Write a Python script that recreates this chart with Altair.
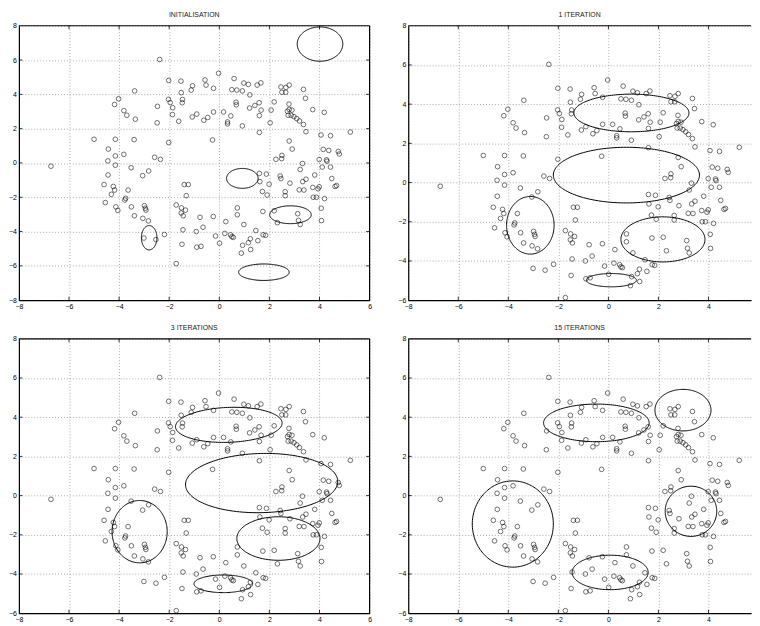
import altair as alt
import numpy as np
import pandas as pd

# ---------------- data points (same in every panel) ----------------
pt_x = [
    -2.38, -2.02, -1.53, -1.07, -1.12, -1.52, -3.38, -4.02, -4.18, -2.03,
    -1.96, -2.47, -1.47, -1.48, -1.86, -3.81, -3.69, -1.87, -0.90, -1.08,
    -3.35, -2.48, -1.62, -5.00, -4.15, -3.40, -2.02, -4.43, -3.81, -4.15,
    -2.58, -2.35, -4.45,
    -6.72, -4.15, -3.52, -2.82, -3.06, -4.44, -4.60, -4.23, -4.18, -3.64,
    -4.31, -3.74, -3.77, -4.55, -4.13, -4.05, -3.51, -2.99, -2.95, -2.93,
    -3.39, -3.05, -2.83, -3.01, -2.53, -2.19, -1.72, -1.72, -1.51, -1.35,
    -1.52, -1.44, -1.40, -1.24, -1.32, -0.77, -1.45, -0.92, -1.49, -0.90, -0.73,
    -0.65, -0.24, -0.15, 0.01, 0.26, 0.22, 0.45, 0.50, 0.56, 0.72,
    0.72, 0.98, 0.93, 0.88, 1.16, 1.24, 1.25, 1.46, 1.54, 1.75,
    1.85, 1.74, 1.60, 1.62, 1.88, 1.99, 1.72, 1.91, 2.19, 2.32,
    2.43, 2.46, 2.82, 2.63, 2.63, 2.26, 2.49, 2.50, 3.32, 3.23,
    3.46, 3.33, 3.19, 3.38, 3.81, 3.73, 3.94, 3.99, 3.75, 3.88,
    4.20, 4.07, 4.08, 3.99, 4.11, 4.28, 4.30, 4.44, 4.49, 4.62,
    4.68, 4.79, 3.13, 3.16, 3.23,
    -0.03, -0.57, -0.53, -0.23, 0.59, 0.98, 1.16, 0.50, 0.70, 0.92,
    1.22, 1.51, 1.66, 2.46, 2.66, 2.79, 2.50, 2.65, 3.36, 3.44,
    0.67, 0.68, 1.21, 1.42, 1.59, 1.67, 1.60, 2.19, 2.07, 2.03,
    1.60, 2.78, 2.72, 2.79, 2.90, 2.75, 2.87, 2.98, 3.09, 3.20,
    3.36, 3.46, 3.73, 4.19, 4.06, 4.44, 5.23, 4.15, 4.37, 4.75,
    2.79, 2.91, -0.27, 0.92, 0.33, 0.33, 0.46, 0.17, -0.23, -0.46, -0.62,
]
pt_y = [
    6.03, 4.81, 4.77, 4.50, 4.25, 4.10, 4.20, 3.74, 3.41, 3.71,
    3.52, 3.30, 3.70, 3.51, 3.22, 3.05, 2.78, 2.82, 2.85, 2.68,
    2.55, 2.34, 2.43, 1.38, 1.38, 1.36, 1.19, 0.81, 0.50, 0.41,
    0.33, 0.21, 0.12,
    -0.19, -0.13, -0.28, -0.47, -0.74, -0.70, -1.26, -1.37, -1.58, -1.58,
    -1.83, -2.06, -2.16, -2.31, -2.56, -2.77, -2.56, -2.49, -2.64, -2.75,
    -3.08, -3.23, -3.38, -4.38, -4.47, -4.17, -5.87, -2.45, -2.62, -2.75,
    -2.92, -3.08, -1.26, -1.26, -1.91, -3.17, -3.90, -4.00, -4.74, -4.91, -4.86,
    -3.75, -3.12, -4.26, -4.68, -3.42, -4.11, -4.19, -4.30, -4.34, -2.62,
    -3.02, -3.59, -4.80, -5.26, -4.65, -4.42, -5.05, -3.94, -4.53, -4.19,
    -4.22, -2.83, -0.61, -1.09, -0.65, -1.24, -1.66, -1.87, -2.79, -3.48,
    -0.76, -0.91, -1.18, -1.68, -1.91, 0.21, 0.25, 0.44, -0.03, -0.38,
    -0.95, -1.09, -1.57, -1.58, -0.70, -1.43, -1.51, -1.39, -2.00, -2.00,
    -2.08, -2.64, -3.36, 0.20, -0.24, 0.18, 0.10, -0.24, -0.91, -1.37,
    -1.32, 0.52, -2.96, -3.35, -3.59,
    5.23, 4.84, 4.54, 4.35, 4.92, 4.66, 4.58, 4.27, 4.25, 4.20,
    3.97, 4.54, 4.67, 4.43, 4.40, 4.54, 4.12, 4.12, 4.29, 3.77,
    3.54, 3.39, 3.20, 3.35, 3.51, 3.08, 2.76, 3.56, 3.08, 2.34,
    1.78, 3.43, 3.01, 3.12, 3.08, 2.78, 2.78, 2.70, 2.59, 2.45,
    2.24, 1.82, 3.11, 2.95, 1.63, 1.59, 1.80, 0.79, 0.73, 0.67,
    1.28, 0.81, 1.34, 2.16, 2.39, 2.28, 2.74, 2.97, 2.97, 2.65, 2.49,
]

# ---------------- ellipses: centre, half-axes, tilt (deg) ----------------
titles = ["INITIALISATION", "1 ITERATION", "3 ITERATIONS", "15 ITERATIONS"]

init_cx = [4.02, 0.92, 2.84, 1.78, -2.80]
init_cy = [6.93, -0.90, -3.02, -6.37, -4.36]
init_rx = [0.91, 0.63, 0.83, 1.01, 0.31]
init_ry = [1.00, 0.58, 0.52, 0.48, 0.71]
init_an = [0, 0, 0, 0, 0]

it1_cx = [0.92, 0.72, -3.12, 2.18, 0.12]
it1_cy = [3.55, 0.38, -2.18, -2.90, -4.98]
it1_rx = [2.30, 2.92, 0.95, 1.68, 1.00]
it1_ry = [0.96, 1.42, 1.47, 1.15, 0.34]
it1_an = [0, 0, 0, 0, 0]

it3_cx = [0.38, 1.69, -3.18, 2.36, 0.16]
it3_cy = [3.61, 0.64, -1.84, -2.19, -4.50]
it3_rx = [2.13, 3.04, 1.10, 1.66, 1.17]
it3_ry = [0.89, 1.51, 1.59, 1.11, 0.45]
it3_an = [3, 2, 0, 0, 0]

it15_cx = [-0.48, 2.98, -3.82, 3.30, 0.07]
it15_cy = [3.71, 4.36, -1.45, -0.80, -3.92]
it15_rx = [2.11, 1.12, 1.62, 1.03, 1.52]
it15_ry = [0.96, 1.06, 2.20, 1.28, 0.88]
it15_an = [0, 0, 0, 0, 0]

ellipse_sets = [
    (init_cx, init_cy, init_rx, init_ry, init_an),
    (it1_cx, it1_cy, it1_rx, it1_ry, it1_an),
    (it3_cx, it3_cy, it3_rx, it3_ry, it3_an),
    (it15_cx, it15_cy, it15_rx, it15_ry, it15_an),
]

x_domains = [[-8, 6], [-8, 5.7], [-8, 6], [-8, 5.7]]
y_domains = [[-8, 8], [-6, 8], [-6, 8], [-6, 8]]
x_ticks_full = [-8, -6, -4, -2, 0, 2, 4, 6]
x_ticks_cut = [-8, -6, -4, -2, 0, 2, 4]
y_ticks_a = [-8, -6, -4, -2, 0, 2, 4, 6, 8]
y_ticks_b = [-6, -4, -2, 0, 2, 4, 6, 8]
x_ticks = [x_ticks_full, x_ticks_cut, x_ticks_full, x_ticks_cut]
y_ticks = [y_ticks_a, y_ticks_b, y_ticks_b, y_ticks_b]

points = pd.DataFrame({"x": pt_x, "y": pt_y})


def ellipse_df(cx, cy, rx, ry, an):
    rows = []
    t = np.linspace(0, 2 * np.pi, 161)
    for i, (a, b, c, d, e) in enumerate(zip(cx, cy, rx, ry, an)):
        th = np.deg2rad(e)
        ex = a + c * np.cos(t) * np.cos(th) - d * np.sin(t) * np.sin(th)
        ey = b + c * np.cos(t) * np.sin(th) + d * np.sin(t) * np.cos(th)
        for k in range(len(t)):
            rows.append({"e": i, "k": k, "x": float(ex[k]), "y": float(ey[k])})
    return pd.DataFrame(rows)


W_FULL = 354
H = 277
TICK = 3.5


def panel(i):
    xd, yd = x_domains[i], y_domains[i]
    w = round(W_FULL * (xd[1] - xd[0]) / 14)
    xs = alt.Scale(domain=xd, nice=False, zero=False)
    ys = alt.Scale(domain=yd, nice=False, zero=False)
    xax = alt.Axis(values=x_ticks[i], format="d", title=None, grid=True,
                   labelFlush=False)
    yax = alt.Axis(values=y_ticks[i], format="d", title=None, grid=True,
                   labelFlush=False)

    pts = alt.Chart(points).mark_point(
        shape="circle", size=22, filled=False, color="black",
        strokeWidth=0.8, clip=True
    ).encode(
        x=alt.X("x:Q", scale=xs, axis=xax),
        y=alt.Y("y:Q", scale=ys, axis=yax),
    )

    ell = alt.Chart(ellipse_df(*ellipse_sets[i])).mark_line(
        color="black", strokeWidth=1, clip=True
    ).encode(
        x=alt.X("x:Q", scale=xs, axis=xax),
        y=alt.Y("y:Q", scale=ys, axis=yax),
        detail="e:N",
        order="k:Q",
    )

    xt = pd.DataFrame({"x": [v for v in x_ticks[i] if xd[0] < v < xd[1]]})
    yt = pd.DataFrame({"y": [v for v in y_ticks[i] if yd[0] < v < yd[1]]})

    tick_bottom = alt.Chart(xt).mark_rule(color="black", strokeWidth=0.8).encode(
        x=alt.X("x:Q", scale=xs, axis=xax), y=alt.value(H), y2=alt.value(H - TICK))
    tick_top = alt.Chart(xt).mark_rule(color="black", strokeWidth=0.8).encode(
        x=alt.X("x:Q", scale=xs, axis=xax), y=alt.value(0), y2=alt.value(TICK))
    tick_left = alt.Chart(yt).mark_rule(color="black", strokeWidth=0.8).encode(
        y=alt.Y("y:Q", scale=ys, axis=yax), x=alt.value(0), x2=alt.value(TICK))

    one = pd.DataFrame({"a": [0]})
    top_border = alt.Chart(one).mark_rule(color="black", strokeWidth=1.2).encode(
        x=alt.value(0), x2=alt.value(w), y=alt.value(0))

    layers = [pts, ell, tick_bottom, tick_top, tick_left, top_border]
    if xd[1] == 6:
        tick_right = alt.Chart(yt).mark_rule(color="black", strokeWidth=0.8).encode(
            y=alt.Y("y:Q", scale=ys, axis=yax), x=alt.value(w), x2=alt.value(w - TICK))
        right_border = alt.Chart(one).mark_rule(color="black", strokeWidth=1.2).encode(
            x=alt.value(w), y=alt.value(0), y2=alt.value(H))
        layers += [tick_right, right_border]

    return alt.layer(*layers).properties(
        width=w, height=H,
        title=alt.TitleParams(titles[i], fontSize=7, fontWeight="normal",
                              font="Liberation Sans", color="#222", offset=4),
    )


chart = alt.concat(
    panel(0), panel(1), panel(2), panel(3),
    columns=2, spacing={"row": 39, "column": 39}, bounds="flush",
).properties(
    padding={"left": 0, "top": 0, "right": 0, "bottom": 0}
).configure_view(stroke=None).configure_axis(
    labelFont="Liberation Sans", labelFontSize=7, labelColor="black",
    domainColor="black", domainWidth=1.2, ticks=False, labelPadding=2.5,
    gridColor="#888888", gridDash=[1, 2], gridWidth=0.7,
).configure_title(font="Liberation Sans", fontSize=7, fontWeight="normal")

chart.save("out.html", embed_options={"renderer": "svg", "actions": False})
